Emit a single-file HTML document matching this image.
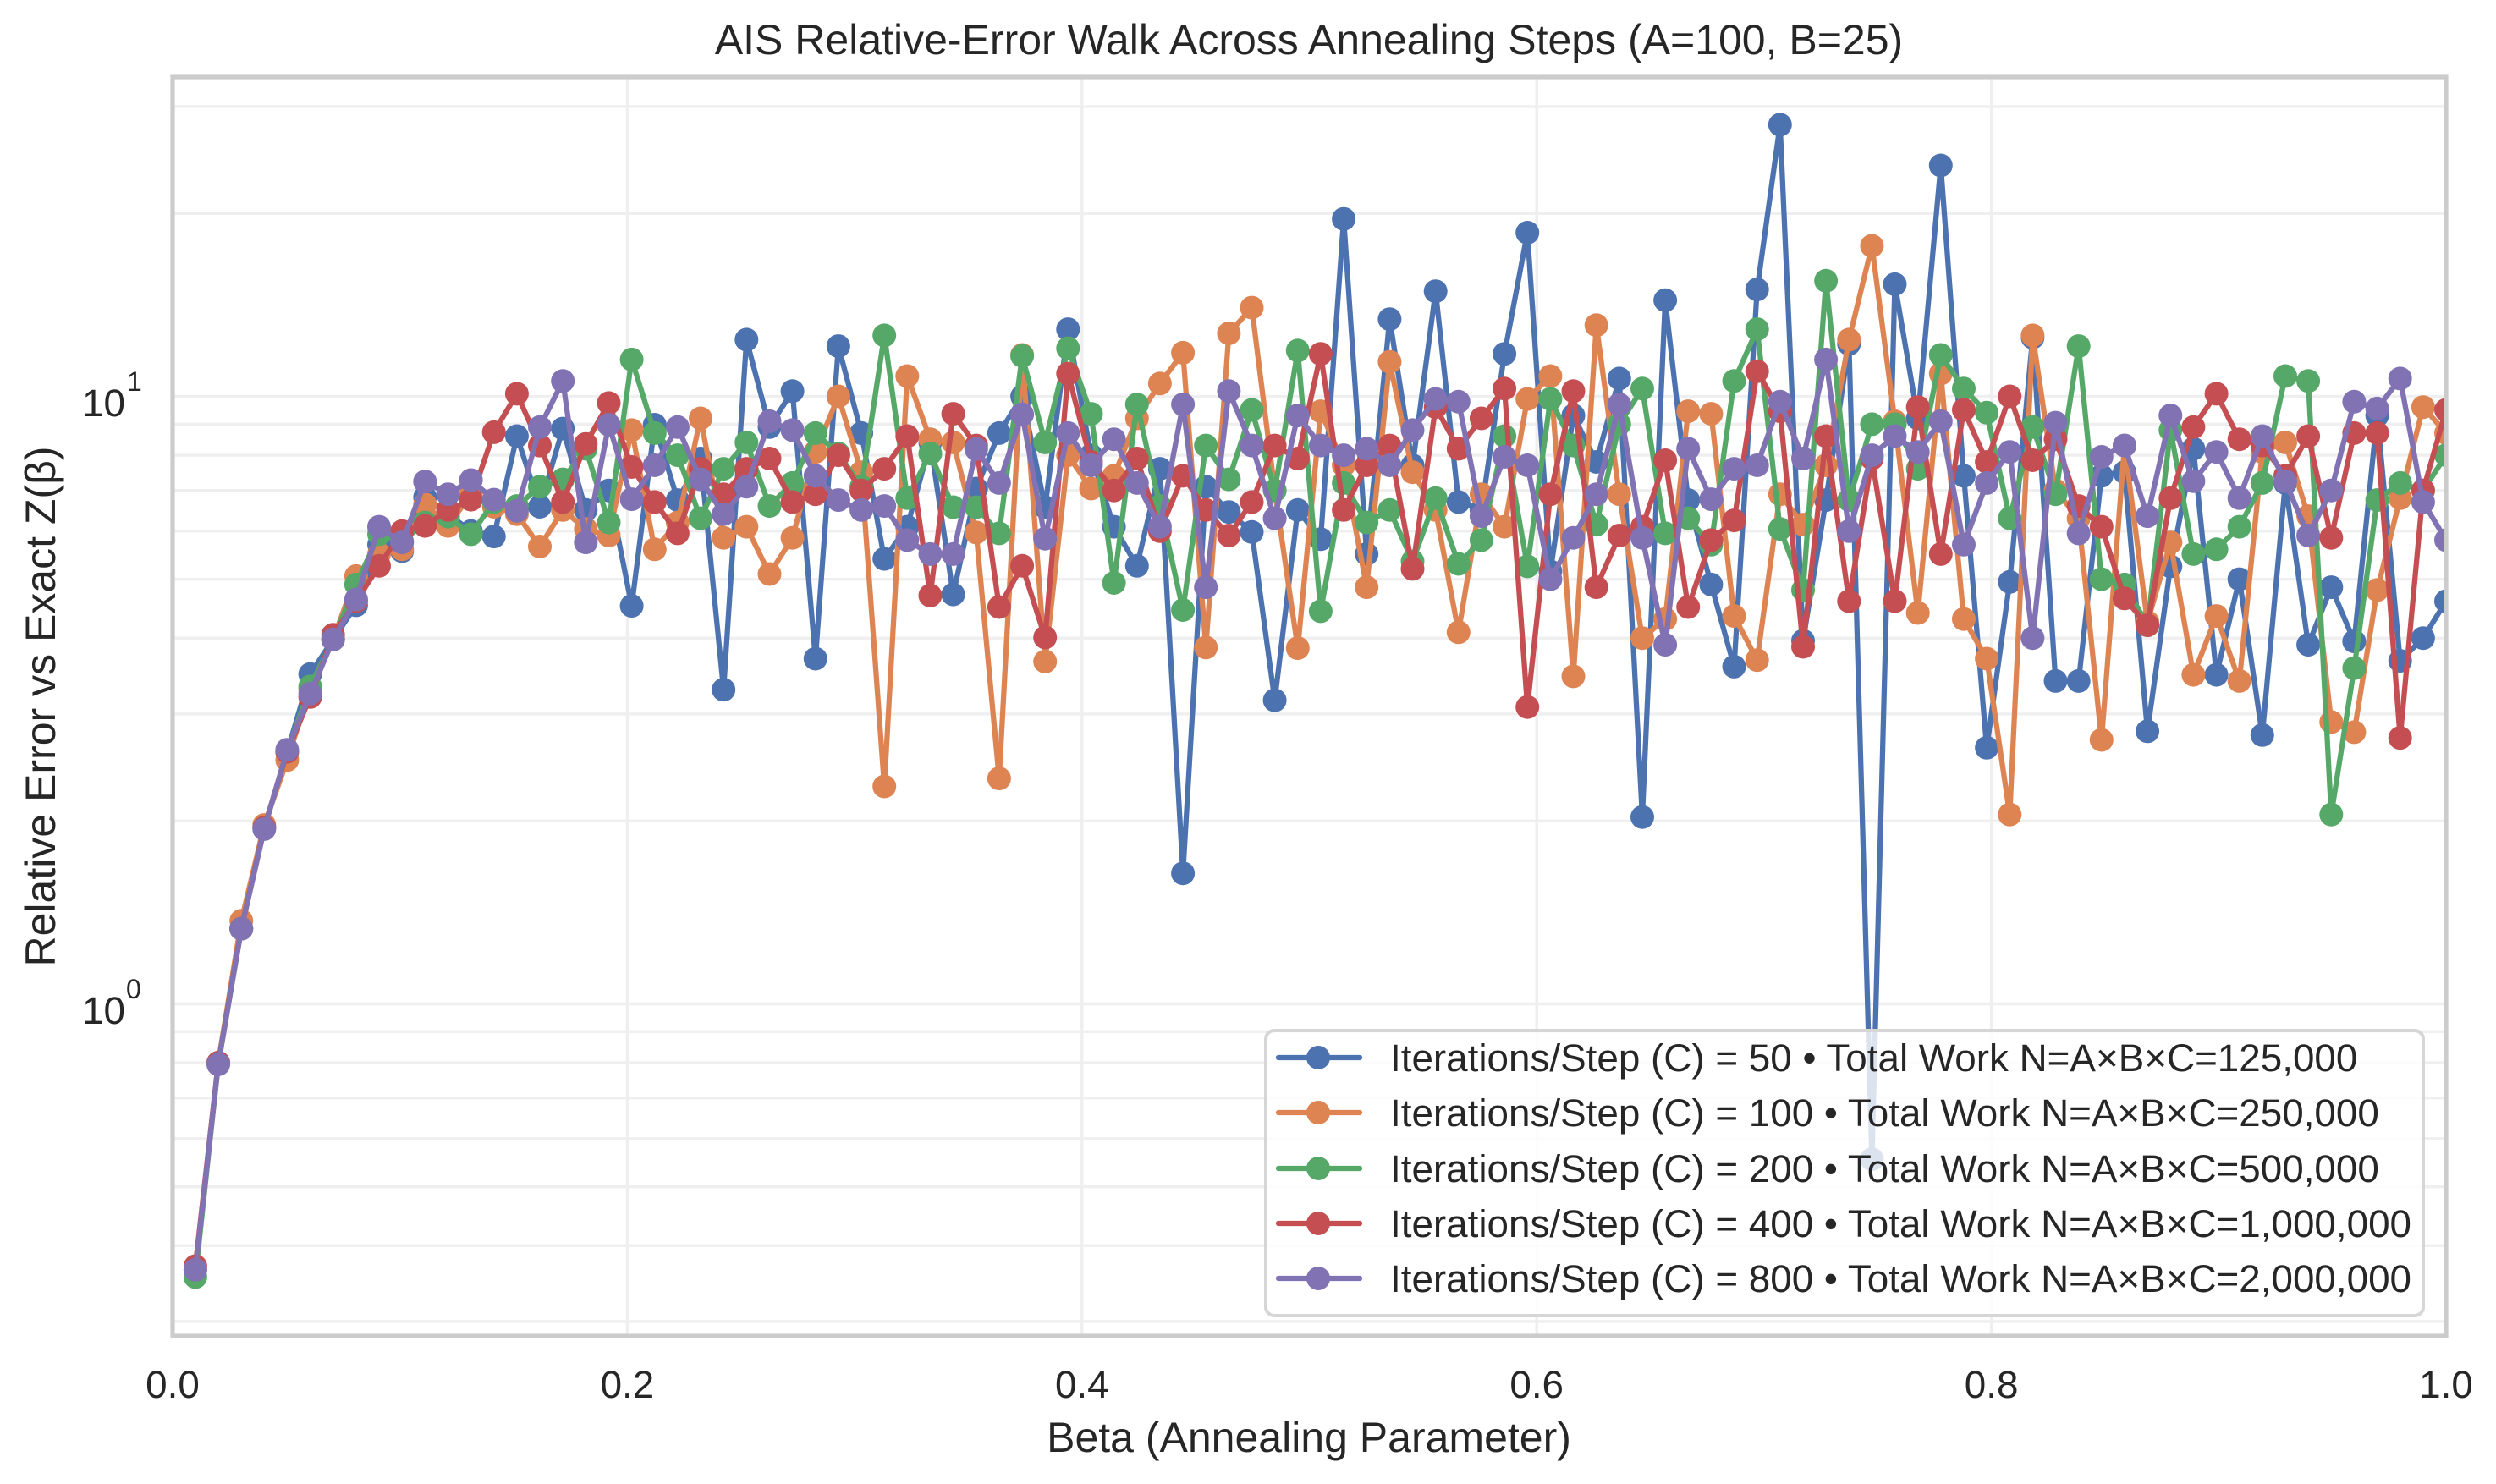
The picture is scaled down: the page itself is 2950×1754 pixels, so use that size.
<!DOCTYPE html>
<html>
<head>
<meta charset="utf-8">
<style>
  html, body { margin: 0; padding: 0; background: #ffffff; }
  svg { display: block; }
  text { font-family: "Liberation Sans", "DejaVu Sans", sans-serif; fill: #262626; }
</style>
</head>
<body>
<svg id="chart" xmlns="http://www.w3.org/2000/svg" width="2950" height="1754" viewBox="0 0 2950 1754">
  <rect x="0" y="0" width="2950" height="1754" fill="#ffffff"/>
  <defs>
    <clipPath id="axclip">
      <rect x="204" y="91" width="2687" height="1488"/>
    </clipPath>
  </defs>

  <g id="grid" stroke="#efefef" stroke-width="3.4"></g>
  <g id="series" clip-path="url(#axclip)"></g>

  <!-- spines -->
  <rect x="204" y="91" width="2687" height="1488" fill="none" stroke="#cccccc" stroke-width="5.2"/>

  <!-- title -->
  <text x="1547" y="64" font-size="50" text-anchor="middle">AIS Relative-Error Walk Across Annealing Steps (A=100, B=25)</text>

  <!-- x tick labels -->
  <g font-size="45.8" text-anchor="middle">
    <text x="204" y="1652">0.0</text>
    <text x="741.4" y="1652">0.2</text>
    <text x="1278.8" y="1652">0.4</text>
    <text x="1816.2" y="1652">0.6</text>
    <text x="2353.6" y="1652">0.8</text>
    <text x="2891" y="1652">1.0</text>
  </g>

  <!-- y tick labels -->
  <g>
    <text x="148" y="492" font-size="45.8" text-anchor="end">10</text>
    <text x="150" y="462" font-size="32">1</text>
    <text x="148" y="1210" font-size="45.8" text-anchor="end">10</text>
    <text x="149" y="1180" font-size="32">0</text>
  </g>

  <!-- axis labels -->
  <text x="1547" y="1716" font-size="50" text-anchor="middle">Beta (Annealing Parameter)</text>
  <text transform="translate(65,835) rotate(-90)" font-size="50" text-anchor="middle">Relative Error vs Exact Z(β)</text>

  <!-- legend -->
  <rect x="1496" y="1218" width="1368" height="1337" rx="10" ry="10" fill="#ffffff" fill-opacity="0.8" stroke="#d6d6d6" stroke-width="4" style="display:none"/>
  <rect x="1496" y="1218" width="1368" height="337" rx="10" ry="10" fill="#ffffff" fill-opacity="0.8" stroke="#d6d6d6" stroke-width="4"/>
  <g stroke-width="6.25" stroke-linecap="round">
    <line x1="1511" y1="1250" x2="1607" y2="1250" stroke="#4C72B0"/>
    <circle cx="1558" cy="1250" r="14" fill="#4C72B0" stroke="none"/>
    <line x1="1511" y1="1315" x2="1607" y2="1315" stroke="#DD8452"/>
    <circle cx="1558" cy="1315" r="14" fill="#DD8452" stroke="none"/>
    <line x1="1511" y1="1381" x2="1607" y2="1381" stroke="#55A868"/>
    <circle cx="1558" cy="1381" r="14" fill="#55A868" stroke="none"/>
    <line x1="1511" y1="1446" x2="1607" y2="1446" stroke="#C44E52"/>
    <circle cx="1558" cy="1446" r="14" fill="#C44E52" stroke="none"/>
    <line x1="1511" y1="1511" x2="1607" y2="1511" stroke="#8172B3"/>
    <circle cx="1558" cy="1511" r="14" fill="#8172B3" stroke="none"/>
  </g>
  <g font-size="45.8">
    <text x="1643" y="1266">Iterations/Step (C) = 50 • Total Work N=A×B×C=125,000</text>
    <text x="1643" y="1331">Iterations/Step (C) = 100 • Total Work N=A×B×C=250,000</text>
    <text x="1643" y="1397">Iterations/Step (C) = 200 • Total Work N=A×B×C=500,000</text>
    <text x="1643" y="1462">Iterations/Step (C) = 400 • Total Work N=A×B×C=1,000,000</text>
    <text x="1643" y="1527">Iterations/Step (C) = 800 • Total Work N=A×B×C=2,000,000</text>
  </g>
</svg>

<script>
(function(){
  var NS = "http://www.w3.org/2000/svg";
  var X0 = 204, X1 = 2891, W = X1 - X0;
  function X(j){ return X0 + (0.01 + 0.99*j/98) * W; }
  function Xb(b){ return X0 + b * W; }
  function Y(v){ return 1186.5 - Math.log10(v) * 718; }

  // grid
  var grid = document.getElementById("grid");
  function gl(x1,y1,x2,y2){
    var l = document.createElementNS(NS,"line");
    l.setAttribute("x1",x1); l.setAttribute("y1",y1);
    l.setAttribute("x2",x2); l.setAttribute("y2",y2);
    grid.appendChild(l);
  }
  [0.2,0.4,0.6,0.8].forEach(function(b){ gl(Xb(b),91,Xb(b),1579); });
  [-1,0,1].forEach(function(k){
    for (var m=1;m<=9;m++){
      var v = m*Math.pow(10,k);
      var y = Y(v);
      if (y > 92 && y < 1578) gl(X0,y,X1,y);
    }
  });

  var data = [
   ["#4C72B0",[0.365,0.80,1.33,1.95,2.6,3.49,3.98,4.53,5.7,5.56,
    6.82,6.4,6.0,5.88,8.6,6.58,8.85,6.5,7.0,4.52,
    8.98,6.75,7.9,3.29,12.4,8.9,10.2,3.7,12.1,8.7,
    5.4,6.1,8.4,4.72,7.05,8.7,10.0,6.57,12.9,8.0,
    6.1,5.26,7.6,1.64,7.1,6.45,5.98,3.16,6.5,5.82,
    19.6,5.5,13.4,7.7,14.9,6.7,6.5,11.75,18.6,5.15,
    9.3,7.8,10.7,2.03,14.4,6.75,4.9,3.59,15.0,28.0,
    3.96,6.75,12.2,0.555,15.3,9.2,24.0,7.4,2.64,4.95,
    12.5,3.4,3.4,7.4,7.5,2.81,5.25,8.2,3.48,5.0,
    2.77,7.2,3.9,4.85,3.95,9.3,3.67,4.0,4.6]],
   ["#DD8452",[0.365,0.80,1.37,1.97,2.52,3.3,3.98,5.06,5.5,5.6,
    6.64,6.12,6.9,6.58,6.4,5.66,6.5,6.05,5.9,8.8,
    5.6,6.2,9.2,5.85,6.1,5.1,5.85,8.1,10.0,7.5,
    2.28,10.8,8.5,8.4,5.97,2.35,11.7,3.66,8.0,7.05,
    7.4,9.2,10.5,11.8,3.86,12.7,14.0,7.0,3.85,9.45,
    7.7,4.85,11.4,7.5,6.5,4.09,6.9,6.1,9.9,10.8,
    3.46,13.1,6.9,4.0,4.3,9.45,9.36,4.35,3.68,6.9,
    6.15,7.7,12.4,17.7,9.1,4.4,10.9,4.3,3.7,2.05,
    12.6,7.0,6.3,2.72,8.3,4.25,5.75,3.48,4.35,3.4,
    8.1,8.4,6.35,2.91,2.8,4.8,6.8,9.6,8.7]],
   ["#55A868",[0.355,0.80,1.33,1.95,2.6,3.33,3.98,4.9,5.93,5.77,
    6.2,6.34,5.93,6.7,6.6,7.1,7.3,8.2,6.2,11.5,
    8.7,8.0,6.3,7.6,8.4,6.6,7.2,8.7,8.05,7.1,
    12.6,6.8,8.05,6.57,6.57,5.95,11.66,8.4,12.0,9.36,
    4.93,9.7,6.6,4.45,8.3,7.3,9.5,7.0,11.9,4.43,
    7.2,6.2,6.5,5.35,6.8,5.3,5.8,8.6,5.25,9.9,
    8.3,6.15,9.0,10.3,5.95,6.3,5.7,10.6,12.9,6.05,
    4.8,15.5,6.75,9.0,9.0,7.6,11.7,10.3,9.4,6.3,
    8.9,6.9,12.1,5.0,4.9,4.2,8.8,5.5,5.6,6.1,
    7.2,10.8,10.6,2.05,3.57,6.75,7.2,7.0,8.0]],
   ["#C44E52",[0.37,0.80,1.33,1.95,2.6,3.2,4.05,4.6,5.26,6.0,
    6.12,6.5,6.76,8.73,10.1,8.3,6.7,8.35,9.75,7.65,
    6.7,5.95,7.6,6.9,7.6,7.9,6.7,6.9,8.0,7.0,
    7.6,8.6,4.7,9.36,8.3,4.5,5.26,4.01,10.9,7.8,
    7.0,7.9,6.0,7.4,6.5,5.9,6.7,8.3,7.9,11.75,
    6.5,7.7,8.3,5.2,9.6,8.2,9.2,10.3,3.08,6.9,
    10.2,4.85,5.9,6.1,7.85,4.5,5.8,6.25,11.0,9.45,
    3.87,8.6,4.6,7.9,4.6,9.6,5.5,9.5,7.8,10.0,
    7.85,8.5,6.6,6.1,4.65,4.2,6.8,8.9,10.1,8.5,
    8.3,7.4,8.6,5.85,8.7,8.7,2.74,7.0,9.5]],
   ["#8172B3",[0.365,0.795,1.33,1.94,2.62,3.24,3.98,4.63,6.1,5.75,
    7.24,6.9,7.28,6.76,6.48,8.9,10.6,5.75,8.98,6.77,
    7.7,8.9,7.3,6.4,7.1,9.1,8.8,7.4,6.75,6.5,
    6.6,5.8,5.5,5.5,8.19,7.2,9.34,5.83,8.7,7.7,
    8.5,7.2,6.1,9.7,4.85,10.2,8.3,6.3,9.3,8.3,
    8.0,8.2,7.7,8.8,9.9,9.8,6.35,7.95,7.7,5.0,
    5.85,6.9,9.7,5.85,3.9,8.2,6.77,7.6,7.7,9.8,
    7.9,11.5,6.0,8.0,8.6,8.1,9.1,5.7,7.2,8.1,
    4.0,9.05,5.95,7.95,8.3,6.35,9.3,7.25,8.1,6.8,
    8.6,7.25,5.9,7.0,9.8,9.55,10.7,6.7,5.8]]
  ];

  var sg = document.getElementById("series");
  data.forEach(function(s){
    var col = s[0], vals = s[1];
    var g = document.createElementNS(NS,"g");
    var pts = vals.map(function(v,j){ return X(j).toFixed(1)+","+Y(v).toFixed(1); }).join(" ");
    var pl = document.createElementNS(NS,"polyline");
    pl.setAttribute("points", pts);
    pl.setAttribute("fill","none");
    pl.setAttribute("stroke",col);
    pl.setAttribute("stroke-width","6.25");
    pl.setAttribute("stroke-linejoin","round");
    pl.setAttribute("stroke-linecap","square");
    g.appendChild(pl);
    vals.forEach(function(v,j){
      var c = document.createElementNS(NS,"circle");
      c.setAttribute("cx", X(j).toFixed(1));
      c.setAttribute("cy", Y(v).toFixed(1));
      c.setAttribute("r","14");
      c.setAttribute("fill",col);
      g.appendChild(c);
    });
    sg.appendChild(g);
  });
})();
</script>
</body>
</html>
